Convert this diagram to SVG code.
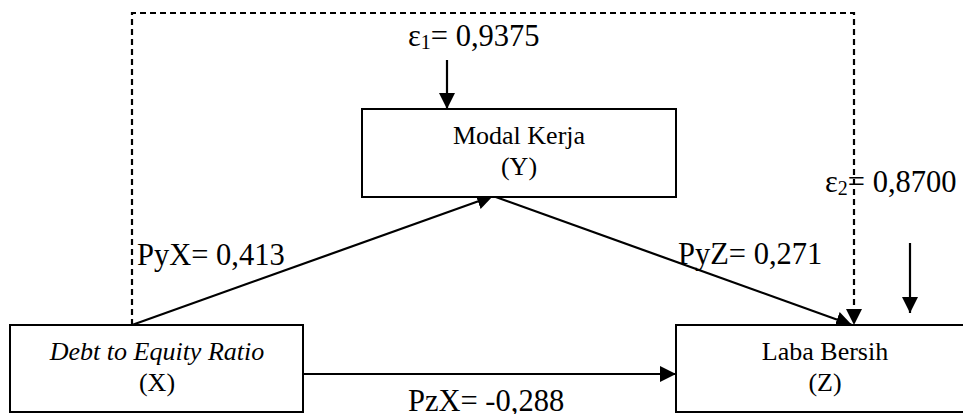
<svg xmlns="http://www.w3.org/2000/svg" width="963" height="414" viewBox="0 0 963 414">
  <style>
    .box { fill: #fff; stroke: #000; stroke-width: 2; }
    text { font-family: 'Liberation Serif', 'DejaVu Serif', serif; fill: #000; }
    .lbl { font-size: 30.5px; }
    .txt { font-size: 26px; text-anchor: middle; }
    .edge { stroke: #000; stroke-width: 2.2; fill: none; }
    .dash { stroke: #000; stroke-width: 2.2; fill: none; stroke-dasharray: 6 4; }
  </style>
  <defs>
    <marker id="arrow" markerWidth="16" markerHeight="16" viewBox="0 0 16 16" refX="16" refY="8" orient="auto" markerUnits="userSpaceOnUse">
      <path d="M0,0 L16,8 L0,16 Z" fill="#000"/>
    </marker>
  </defs>
  <rect width="963" height="414" fill="#fff"/>

  <!-- connectors -->
  <g id="connectors">
    <!-- indirect path drawn as a dashed frame over the top -->
    <path class="dash" d="M132,325 V13 H854 V312"/>
    <path d="M846,309 L862,309 L854,325 Z" fill="#000"/>
    <!-- X to Y -->
    <line class="edge" x1="132" y1="325" x2="493" y2="196" marker-end="url(#arrow)"/>
    <!-- Y to Z -->
    <line class="edge" x1="493" y1="196" x2="852" y2="325" marker-end="url(#arrow)"/>
    <!-- X to Z -->
    <line class="edge" x1="303" y1="374" x2="676" y2="374" marker-end="url(#arrow)"/>
    <!-- error terms -->
    <line class="edge" x1="447" y1="60" x2="447" y2="109" marker-end="url(#arrow)"/>
    <line class="edge" x1="910" y1="243" x2="910" y2="313" marker-end="url(#arrow)"/>
  </g>

  <!-- nodes -->
  <g id="node-y">
    <rect class="box" x="362" y="109" width="314" height="88"/>
    <text class="txt" x="519" y="144" font-family="Liberation Serif, serif">Modal Kerja</text>
    <text class="txt" x="519" y="175" font-family="Liberation Serif, serif">(Y)</text>
  </g>
  <g id="node-x">
    <rect class="box" x="10" y="325" width="293" height="87"/>
    <text class="txt" x="157" y="360" font-style="italic" font-family="Liberation Serif, serif">Debt to Equity Ratio</text>
    <text class="txt" x="157" y="391" font-family="Liberation Serif, serif">(X)</text>
  </g>
  <g id="node-z">
    <rect class="box" x="676" y="325" width="300" height="87"/>
    <text class="txt" x="825" y="360" font-family="Liberation Serif, serif">Laba Bersih</text>
    <text class="txt" x="825" y="391" font-family="Liberation Serif, serif">(Z)</text>
  </g>

  <!-- coefficient labels -->
  <g id="labels" font-family="Liberation Serif, serif">
    <text class="lbl" x="408" y="46">ε<tspan font-size="20" dy="3">1</tspan><tspan dy="-3">= 0,9375</tspan></text>
    <text class="lbl" x="825" y="192">ε<tspan font-size="20" dy="3">2</tspan><tspan dy="-3">= 0,8700</tspan></text>
    <text class="lbl" x="137" y="265">PyX= 0,413</text>
    <text class="lbl" x="678" y="264">PyZ= 0,271</text>
    <text class="lbl" x="408" y="411">PzX= -0,288</text>
  </g>
</svg>
